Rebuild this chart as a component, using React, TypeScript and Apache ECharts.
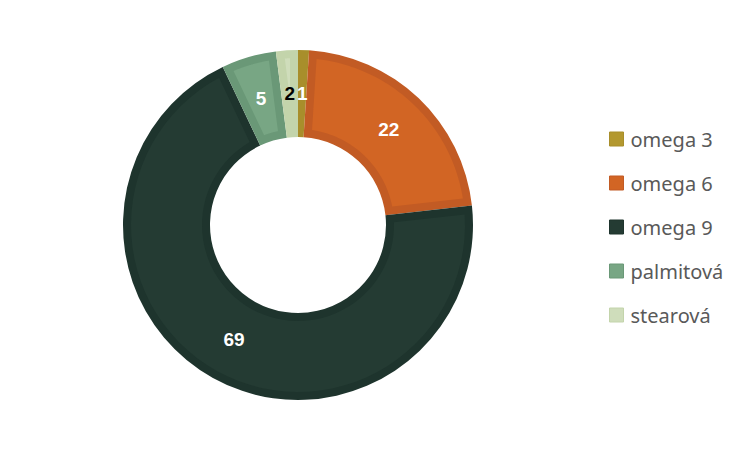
import React, { useEffect, useRef } from "react";
import * as echarts from "echarts";

const categories = ["omega 3", "omega 6", "omega 9", "palmitová", "stearová"];
const values = [1, 22, 69, 5, 2];
const fillColors = ["#B3982F", "#D26524", "#243B33", "#78A684", "#CFDDBB"];
const borderColors = ["#A88E2B", "#C25B24", "#1E342D", "#6A9877", "#C3D4AB"];
const labelColors = ["#FFFFFF", "#FFFFFF", "#FFFFFF", "#FFFFFF", "#000000"];

const CX = 298;
const CY = 225;
const R_IN = 88;
const R_OUT = 175;
const INSET = 8;

export default function App() {
  const ref = useRef<HTMLDivElement>(null);
  useEffect(() => {
    if (!ref.current) return;
    const chart = echarts.init(ref.current, undefined, { renderer: "svg" });
    const total = values.reduce((a, b) => a + b, 0);

    const renderItem = (params: any, api: any) => {
      const idx = params.dataIndex;
      let before = 0;
      for (let i = 0; i < idx; i++) before += values[i];
      const v = api.value(1);
      const a1 = (before / total) * Math.PI * 2;
      const a2 = ((before + v) / total) * Math.PI * 2;
      const pt = (ang: number, rho: number) => [
        CX + rho * Math.sin(ang),
        CY - rho * Math.cos(ang),
      ];
      const children: any[] = [];
      const ro = R_OUT - INSET;
      const ri = R_IN + INSET;
      const half = (a2 - a1) / 2;
      const rhoStar = INSET / Math.sin(half);
      if (rhoStar < ro) {
        const pts: number[][] = [];
        const o1 = a1 + Math.asin(INSET / ro);
        const o2 = a2 - Math.asin(INSET / ro);
        const N = 60;
        for (let k = 0; k <= N; k++) pts.push(pt(o1 + ((o2 - o1) * k) / N, ro));
        if (rhoStar < ri) {
          const i1 = a1 + Math.asin(INSET / ri);
          const i2 = a2 - Math.asin(INSET / ri);
          for (let k = 0; k <= N; k++) pts.push(pt(i2 - ((i2 - i1) * k) / N, ri));
        } else {
          pts.push(pt((a1 + a2) / 2, rhoStar));
        }
        children.push({
          type: "polygon",
          shape: { points: pts },
          style: { fill: fillColors[idx] },
          silent: true,
        });
      }
      const mid = (a1 + a2) / 2;
      const lp = pt(mid, (R_IN + R_OUT) / 2);
      children.push({
        type: "text",
        x: lp[0],
        y: lp[1],
        z2: 10,
        style: {
          text: String(v),
          fill: labelColors[idx],
          font: "bold 19px 'Liberation Sans', Arial, sans-serif",
          align: "center",
          verticalAlign: "middle",
        },
        silent: true,
      });
      return { type: "group", children };
    };

    chart.setOption({
      animation: false,
      backgroundColor: "#FFFFFF",
      legend: {
        orient: "vertical",
        left: 609,
        top: 129,
        padding: 0,
        itemWidth: 14,
        itemHeight: 14,
        itemGap: 24,
        icon: "rect",
        data: categories.map((name, i) => ({
          name,
          itemStyle: {
            color: fillColors[i],
            borderColor: borderColors[i],
            borderWidth: 1,
          },
        })),
        textStyle: {
          fontFamily: "Noto Sans",
          fontSize: 20,
          color: "#595959",
          padding: [0, 0, 0, 2],
        },
      },
      series: [
        {
          type: "pie",
          z: 1,
          center: [CX, CY],
          radius: [R_IN, R_OUT],
          startAngle: 90,
          clockwise: true,
          avoidLabelOverlap: false,
          label: { show: false },
          labelLine: { show: false },
          emphasis: { disabled: true },
          data: categories.map((name, i) => ({
            name,
            value: values[i],
            itemStyle: { color: borderColors[i] },
          })),
        },
        {
          type: "custom",
          z: 2,
          coordinateSystem: "none",
          renderItem,
          silent: true,
          data: values.map((v, i) => [i, v]),
        },
      ],
    });
    return () => chart.dispose();
  }, []);
  return (
    <div
      ref={ref}
      style={{ position: "fixed", left: 0, top: 0, width: 750, height: 450 }}
    />
  );
}
